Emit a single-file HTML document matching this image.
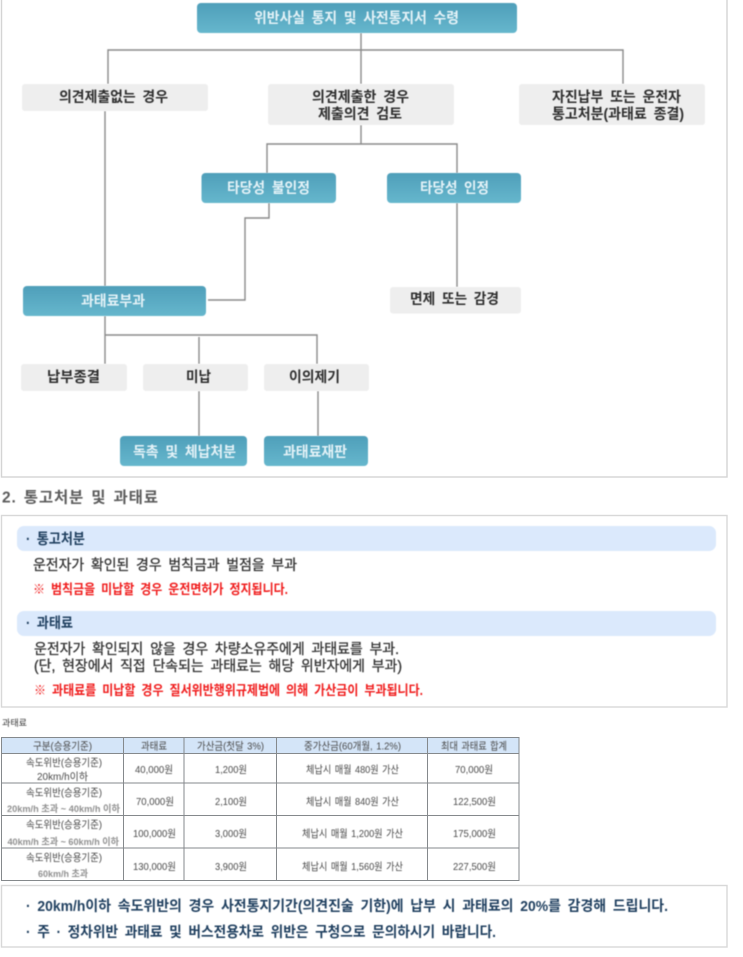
<!DOCTYPE html>
<html lang="ko">
<head>
<meta charset="utf-8">
<title>통고처분 및 과태료</title>
<style>
html,body{margin:0;padding:0;background:#fff;width:743px;height:957px;overflow:hidden}
svg{display:block}
text{font-family:"Liberation Sans","Noto Sans CJK KR",sans-serif;white-space:pre}
.t{filter:blur(.45px)}
.b{font-weight:700;fill:#2e2e2e;font-size:14.5px;word-spacing:3px}
.w{font-weight:700;fill:#e4f2f7;font-size:14.5px;word-spacing:3px}
.m{font-weight:400;fill:#333;stroke:#333;stroke-width:.3px;font-size:14.5px;word-spacing:3px}
.n{font-weight:700;fill:#1f3f5f;font-size:14.5px;word-spacing:3px}
.r{font-weight:700;fill:#f01c1c;font-size:13.5px;word-spacing:3px}
.c{fill:#4a4a4a;font-size:10.5px;word-spacing:1px}
.g{fill:#909090;font-size:9.5px;font-weight:700}
</style>
</head>
<body>
<svg width="743" height="957" viewBox="0 0 743 957" xmlns="http://www.w3.org/2000/svg">
<defs>
<linearGradient id="teal" x1="0" y1="0" x2="0" y2="1">
<stop offset="0" stop-color="#4f9fba"/><stop offset="1" stop-color="#66b7cd"/>
</linearGradient>
</defs>
<rect x="0" y="0" width="743" height="957" fill="#fff"/>

<!-- frames -->
<rect x="1.5" y="-2" width="725.5" height="479" fill="#fff" stroke="#d4d4d4" stroke-width="1.4"/>
<rect x="1.5" y="515.5" width="725.5" height="191.5" fill="#fff" stroke="#d8d8d8" stroke-width="1.4"/>
<rect x="1.5" y="885.5" width="725.5" height="61.5" fill="#fff" stroke="#d8d8d8" stroke-width="1.4"/>

<!-- connectors -->
<g fill="none" stroke="#8a8a8a" stroke-width="1.4" class="t">
<path d="M361 33V84M108 84V50H623V84"/>
<path d="M105 111V286"/>
<path d="M361 125V144M267 173V144H457V173"/>
<path d="M269 203V218H245V300H208"/>
<path d="M457 203V287"/>
<path d="M105 316V364M105 335H317V364M199 337V364"/>
<path d="M199 391V436M318 391V436"/>
</g>

<!-- nodes -->
<g class="t">
<rect x="197" y="3" width="320" height="30" rx="4" fill="url(#teal)"/>
<rect x="22" y="84" width="186" height="27" rx="3" fill="#eee"/>
<rect x="268" y="84" width="186" height="41" rx="3" fill="#eee"/>
<rect x="519" y="84" width="186" height="41" rx="3" fill="#eee"/>
<rect x="201.5" y="173" width="134.5" height="30" rx="4" fill="url(#teal)"/>
<rect x="387" y="173" width="134" height="30" rx="4" fill="url(#teal)"/>
<rect x="23" y="286" width="183" height="30" rx="4" fill="url(#teal)"/>
<rect x="390" y="287" width="131" height="26.5" rx="3" fill="#eee"/>
<rect x="21" y="364" width="106" height="27" rx="3" fill="#eee"/>
<rect x="143" y="364" width="105" height="27" rx="3" fill="#eee"/>
<rect x="264" y="364" width="105" height="27" rx="3" fill="#eee"/>
<rect x="120" y="436" width="127" height="30" rx="4" fill="url(#teal)"/>
<rect x="264" y="436" width="104" height="30" rx="4" fill="url(#teal)"/>
<rect x="17" y="526" width="699" height="25" rx="7" fill="#dbe9fc"/>
<rect x="17" y="611" width="699" height="25" rx="7" fill="#dbe9fc"/>
</g>

<!-- diagram labels -->
<g class="t">
<text class="w" x="254" y="23" textLength="205" lengthAdjust="spacingAndGlyphs">위반사실 통지 및 사전통지서 수령</text>
<text class="b" x="59" y="102" textLength="109" lengthAdjust="spacingAndGlyphs">의견제출없는 경우</text>
<text class="b" x="312" y="102" textLength="97" lengthAdjust="spacingAndGlyphs">의견제출한 경우</text>
<text class="b" x="318" y="119" textLength="84" lengthAdjust="spacingAndGlyphs">제출의견 검토</text>
<text class="b" x="552" y="102" textLength="129" lengthAdjust="spacingAndGlyphs">자진납부 또는 운전자</text>
<text class="b" x="552" y="119" textLength="132" lengthAdjust="spacingAndGlyphs">통고처분(과태료 종결)</text>
<text class="w" x="227" y="193" textLength="83" lengthAdjust="spacingAndGlyphs">타당성 불인정</text>
<text class="w" x="420" y="193" textLength="69" lengthAdjust="spacingAndGlyphs">타당성 인정</text>
<text class="w" x="81" y="306" textLength="64" lengthAdjust="spacingAndGlyphs">과태료부과</text>
<text class="b" x="410" y="304" textLength="89" lengthAdjust="spacingAndGlyphs">면제 또는 감경</text>
<text class="b" x="47" y="382" textLength="53" lengthAdjust="spacingAndGlyphs">납부종결</text>
<text class="b" x="186" y="382" textLength="25" lengthAdjust="spacingAndGlyphs">미납</text>
<text class="b" x="289" y="382" textLength="51" lengthAdjust="spacingAndGlyphs">이의제기</text>
<text class="w" x="133" y="457" textLength="103" lengthAdjust="spacingAndGlyphs">독촉 및 체납처분</text>
<text class="w" x="283" y="457" textLength="64" lengthAdjust="spacingAndGlyphs">과태료재판</text>

<text x="2" y="502.5" font-size="15.5" font-weight="700" fill="#5c5c5c" word-spacing="2" textLength="156" lengthAdjust="spacing">2. 통고처분 및 과태료</text>

<text class="n" x="26" y="544" textLength="59" lengthAdjust="spacingAndGlyphs">· 통고처분</text>
<text class="m" x="33" y="570" textLength="264" lengthAdjust="spacingAndGlyphs">운전자가 확인된 경우 범칙금과 벌점을 부과</text>
<text class="r" x="33" y="594" textLength="255" lengthAdjust="spacingAndGlyphs">※ 범칙금을 미납할 경우 운전면허가 정지됩니다.</text>
<text class="n" x="26" y="628" textLength="47" lengthAdjust="spacingAndGlyphs">· 과태료</text>
<text class="m" x="34" y="654" textLength="365" lengthAdjust="spacingAndGlyphs">운전자가 확인되지 않을 경우 차량소유주에게 과태료를 부과.</text>
<text class="m" x="34" y="671" textLength="368" lengthAdjust="spacingAndGlyphs">(단, 현장에서 직접 단속되는 과태료는 해당 위반자에게 부과)</text>
<text class="r" x="34" y="695" textLength="389" lengthAdjust="spacingAndGlyphs">※ 과태료를 미납할 경우 질서위반행위규제법에 의해 가산금이 부과됩니다.</text>

<text x="2" y="726" font-size="9" fill="#333" textLength="25" lengthAdjust="spacingAndGlyphs">과태료</text>
</g>

<!-- table -->
<rect x="1.5" y="737" width="517.5" height="16.5" fill="#d4e5f8"/>
<g fill="none" stroke="#85898c" stroke-width="1">
<rect x="1.5" y="737.5" width="517.5" height="143"/>
<path d="M1.5 753.5H519M1.5 783H519M1.5 815.5H519M1.5 848H519"/>
<path d="M123.5 737.5V880.5M184 737.5V880.5M276.5 737.5V880.5M427.5 737.500V880.5"/>
</g>
<g class="t">
<text class="c" x="33" y="749.5" textLength="59" lengthAdjust="spacingAndGlyphs">구분(승용기준)</text>
<text class="c" x="141" y="749.5" textLength="26" lengthAdjust="spacingAndGlyphs">과태료</text>
<text class="c" x="197" y="749.5" textLength="67" lengthAdjust="spacingAndGlyphs">가산금(첫달 3%)</text>
<text class="c" x="304" y="749.5" textLength="97" lengthAdjust="spacingAndGlyphs">중가산금(60개월, 1.2%)</text>
<text class="c" x="441" y="749.5" textLength="66" lengthAdjust="spacingAndGlyphs">최대 과태료 합계</text>

<text class="c" x="26" y="766" textLength="76" lengthAdjust="spacingAndGlyphs">속도위반(승용기준)</text>
<text class="c" x="37" y="780" textLength="51" lengthAdjust="spacingAndGlyphs">20km/h이하</text>
<text class="c" x="135" y="773" textLength="38" lengthAdjust="spacingAndGlyphs">40,000원</text>
<text class="c" x="215" y="773" textLength="32" lengthAdjust="spacingAndGlyphs">1,200원</text>
<text class="c" x="306" y="773" textLength="93" lengthAdjust="spacingAndGlyphs">체납시 매월 480원 가산</text>
<text class="c" x="455" y="773" textLength="38" lengthAdjust="spacingAndGlyphs">70,000원</text>

<text class="c" x="26" y="796" textLength="76" lengthAdjust="spacingAndGlyphs">속도위반(승용기준)</text>
<text class="g" x="7" y="812" textLength="113" lengthAdjust="spacingAndGlyphs">20km/h 초과 ~ 40km/h 이하</text>
<text class="c" x="136" y="805" textLength="38" lengthAdjust="spacingAndGlyphs">70,000원</text>
<text class="c" x="215" y="805" textLength="32" lengthAdjust="spacingAndGlyphs">2,100원</text>
<text class="c" x="306" y="805" textLength="93" lengthAdjust="spacingAndGlyphs">체납시 매월 840원 가산</text>
<text class="c" x="453" y="805" textLength="43" lengthAdjust="spacingAndGlyphs">122,500원</text>

<text class="c" x="26" y="828" textLength="76" lengthAdjust="spacingAndGlyphs">속도위반(승용기준)</text>
<text class="g" x="7.5" y="845" textLength="111.5" lengthAdjust="spacingAndGlyphs">40km/h 초과 ~ 60km/h 이하</text>
<text class="c" x="133" y="837" textLength="43" lengthAdjust="spacingAndGlyphs">100,000원</text>
<text class="c" x="215" y="837" textLength="32" lengthAdjust="spacingAndGlyphs">3,000원</text>
<text class="c" x="302" y="837" textLength="101" lengthAdjust="spacingAndGlyphs">체납시 매월 1,200원 가산</text>
<text class="c" x="453" y="837" textLength="43" lengthAdjust="spacingAndGlyphs">175,000원</text>

<text class="c" x="26" y="861" textLength="76" lengthAdjust="spacingAndGlyphs">속도위반(승용기준)</text>
<text class="g" x="38" y="877" textLength="50" lengthAdjust="spacingAndGlyphs">60km/h 초과</text>
<text class="c" x="133" y="870" textLength="43" lengthAdjust="spacingAndGlyphs">130,000원</text>
<text class="c" x="215" y="870" textLength="32" lengthAdjust="spacingAndGlyphs">3,900원</text>
<text class="c" x="302" y="870" textLength="101" lengthAdjust="spacingAndGlyphs">체납시 매월 1,560원 가산</text>
<text class="c" x="453" y="870" textLength="43" lengthAdjust="spacingAndGlyphs">227,500원</text>

<text class="n" x="26" y="911" textLength="642" lengthAdjust="spacingAndGlyphs">· 20km/h이하 속도위반의 경우 사전통지기간(의견진술 기한)에 납부 시 과태료의 20%를 감경해 드립니다.</text>
<text class="n" x="26" y="937" textLength="470" lengthAdjust="spacingAndGlyphs">· 주 · 정차위반 과태료 및 버스전용차로 위반은 구청으로 문의하시기 바랍니다.</text>
</g>
</svg>
</body>
</html>
